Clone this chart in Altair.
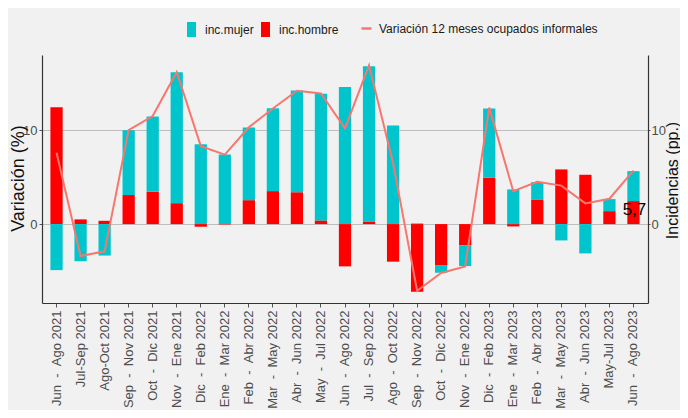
import altair as alt
import pandas as pd

categories = [
    "Jun - Ago 2021", "Jul-Sep 2021", "Ago-Oct 2021", "Sep - Nov 2021", "Oct - Dic 2021",
    "Nov - Ene 2021", "Dic - Feb 2022", "Ene - Mar 2022", "Feb - Abr 2022", "Mar - May 2022",
    "Abr - Jun 2022", "May - Jul 2022", "Jun - Ago 2022", "Jul - Sep 2022", "Ago - Oct 2022",
    "Sep - Nov 2022", "Oct - Dic 2022", "Nov - Ene 2022", "Dic - Feb 2023", "Ene - Mar 2023",
    "Feb - Abr 2023", "Mar - May 2023", "Abr - Jun 2023", "May-Jul 2023", "Jun - Ago 2023",
]
inc_mujer = [-4.90, -3.95, -3.35, 6.91, 8.01, 13.94, 8.50, 7.41, 7.73, 8.83,
             10.82, 13.48, 14.60, 16.52, 10.50, 0.08, -0.82, -2.20, 7.37, 3.69,
             1.85, -1.74, -3.12, 1.28, 3.19]
inc_hombre = [12.45, 0.50, 0.35, 3.09, 3.44, 2.23, -0.28, -0.05, 2.55, 3.51,
              3.40, 0.39, -4.50, 0.28, -4.00, -7.20, -4.36, -2.27, 4.93, -0.25,
              2.62, 5.82, 5.25, 1.38, 2.45]
variacion = [7.6, -3.4, -2.9, 10.0, 11.5, 16.2, 8.3, 7.4, 10.3, 12.3,
             14.2, 13.9, 10.2, 16.9, 6.5, -7.1, -5.2, -4.5, 12.4, 3.5,
             4.5, 4.1, 2.2, 2.7, 5.7]

series_names = ["inc.mujer", "inc.hombre"]
series_colors = ["#00C5CD", "#FF0000"]
line_name = "Variación 12 meses ocupados informales"
line_color = "#F8766D"

rows = []
for c, m, h in zip(categories, inc_mujer, inc_hombre):
    rows.append({"periodo": c, "serie": "inc.hombre", "valor": h, "ord": 0})
    rows.append({"periodo": c, "serie": "inc.mujer", "valor": m, "ord": 1})
bars_df = pd.DataFrame(rows)
line_df = pd.DataFrame({"periodo": categories, "valor": variacion, "serie": line_name})
label_df = pd.DataFrame({
    "periodo": [categories[-1]],
    "valor": [inc_hombre[-1]],
    "txt": [f"{variacion[-1]:.1f}".replace(".", ",")],
})

FONT = "Liberation Sans"
NB = "\u00a0"
label_expr = f"replace(datum.label, ' - ', '{NB}{NB}-{NB}{NB}')"

x_scale = alt.Scale(domain=categories, paddingInner=0.49, paddingOuter=0.35)
y_scale = alt.Scale(domain=[-8.4, 18.0], nice=False, zero=False)

x_enc = alt.X("periodo:N", scale=x_scale, sort=categories, title=None,
              axis=alt.Axis(labelAngle=270, labelAlign="right", labelBaseline="middle",
                            labelFontSize=13, labelColor="#4D4D4D", labelFont=FONT,
                            labelPadding=3, tickSize=4, tickColor="#555555",
                            domainColor="#333333", domainWidth=1.2, grid=False,
                            labelOverlap=False, labelExpr=label_expr, labelLimit=0))

bars = alt.Chart(bars_df).mark_bar().encode(
    x=x_enc,
    y=alt.Y("valor:Q", stack="zero", scale=y_scale,
            axis=alt.Axis(orient="left", values=[0, 10], title="Variación (%)",
                          titleFontSize=18, titleFontWeight="normal", titleColor="#111111",
                          titleFont=FONT, titleAngle=270, titleAlign="center",
                          titleBaseline="middle", titleX=-24, titleY=123,
                          labelFontSize=13, labelColor="#4D4D4D", labelFont=FONT,
                          labelPadding=2,
                          tickSize=3, tickColor="#555555", domainColor="#333333",
                          domainWidth=1.2, grid=True, gridColor="#BDBDBD", gridWidth=1.2)),
    color=alt.Color("serie:N",
                    scale=alt.Scale(domain=series_names, range=series_colors),
                    legend=alt.Legend(orient="none", legendX=142, legendY=-33,
                                      direction="horizontal", title=None,
                                      symbolType="M-0.6,-1H0.6V1H-0.6Z", symbolSize=225,
                                      symbolStrokeWidth=0, labelFont=FONT, labelFontSize=12,
                                      labelColor="#1A1A1A", labelOffset=6, columnPadding=4,
                                      labelLimit=0)),
    order=alt.Order("ord:Q"),
)

line = alt.Chart(line_df).mark_line(strokeWidth=2).encode(
    x=alt.X("periodo:N", scale=x_scale, sort=categories),
    y=alt.Y("valor:Q", scale=y_scale,
            axis=alt.Axis(orient="right", values=[0, 10], title="Incidencias (pp.)",
                          titleAngle=270, titleFontSize=16, titleFontWeight="normal",
                          titleColor="#111111", titleFont=FONT, titleAlign="center",
                          titleBaseline="middle", titleX=24, titleY=125,
                          labelFontSize=13, labelColor="#4D4D4D", labelFont=FONT,
                          labelPadding=1,
                          tickSize=2, tickColor="#555555", domainColor="#333333",
                          domainWidth=1.2, grid=False)),
    stroke=alt.Stroke("serie:N", scale=alt.Scale(domain=[line_name], range=[line_color]),
                      legend=alt.Legend(orient="none", legendX=318, legendY=-33,
                                        direction="horizontal", title=None,
                                        symbolType="stroke", symbolSize=100,
                                        symbolStrokeWidth=2.5, labelFont=FONT,
                                        labelFontSize=12, labelColor="#1A1A1A",
                                        labelOffset=6, labelLimit=0)),
)

label = alt.Chart(label_df).mark_text(font=FONT, fontSize=17, color="black",
                                      baseline="top", align="center", dx=1, dy=1).encode(
    x=alt.X("periodo:N", scale=x_scale, sort=categories),
    y=alt.Y("valor:Q", scale=y_scale, axis=None),
    text="txt:N",
)

chart = alt.layer(bars, line, label).resolve_scale(
    y="shared", color="independent"
).resolve_axis(y="independent").properties(
    width=606, height=248,
    autosize=alt.AutoSizeParams(type="none"),
    padding={"left": 34, "top": 47, "right": 32, "bottom": 107},
    background="#F1F1F1",
).configure_view(stroke=None)

chart.save("out.html", embed_options={"renderer": "svg", "actions": False})
